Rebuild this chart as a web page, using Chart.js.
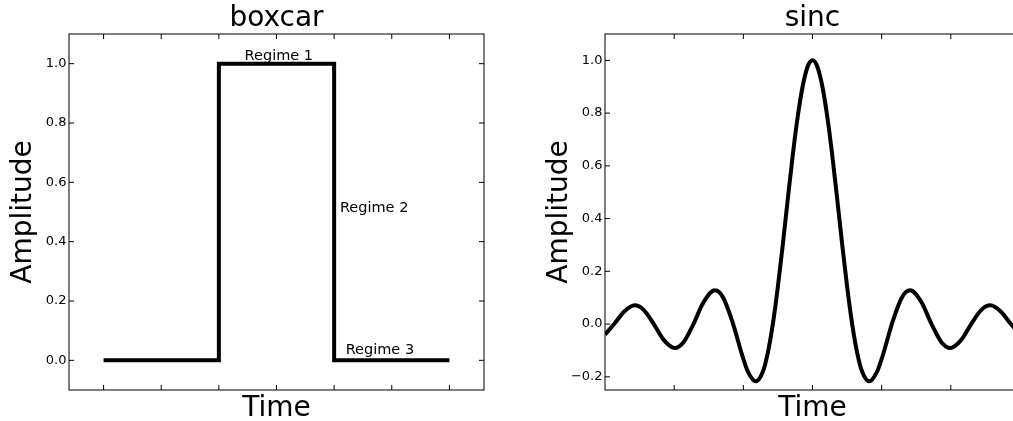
<!DOCTYPE html>
<html>
<head>
<meta charset="utf-8">
<script src="https://cdn.jsdelivr.net/npm/chart.js@4.4.1/dist/chart.umd.min.js"></script>
<style>
  html, body { margin: 0; padding: 0; background: #fff; overflow: hidden; }
  #wrap { position: relative; width: 1013px; height: 421px; overflow: hidden; background: #fff; }
  canvas { position: absolute; top: 0; }
  #c1 { left: 0; }
  #c2 { left: 536px; }
</style>
</head>
<body>
<div id="wrap">
  <canvas id="c1" width="536" height="421"></canvas>
  <canvas id="c2" width="536" height="421"></canvas>
</div>
<script>
// ---- data ----
const boxcarTime = [0, 2, 2, 4, 4, 6];
const boxcarAmp  = [0, 0, 1, 1, 0, 0];
const boxcarXTicks = [0, 1, 2, 3, 4, 5, 6];
const boxcarYTicks = [0, 0.2, 0.4, 0.6, 0.8, 1.0];

const sincTime = [-5.23, -5.0, -4.75, -4.48, -4.25, -4.0, -3.75, -3.47, -3.25, -3.0,
  -2.75, -2.46, -2.25, -2.0, -1.875, -1.75, -1.625, -1.43, -1.25, -1.125, -1.0,
  -0.875, -0.75, -0.625, -0.5, -0.375, -0.25, -0.125, 0,
  0.125, 0.25, 0.375, 0.5, 0.625, 0.75, 0.875, 1.0, 1.125, 1.25, 1.43, 1.625,
  1.75, 1.875, 2.0, 2.25, 2.46, 2.75, 3.0, 3.25, 3.47, 3.75, 4.0, 4.25, 4.48,
  4.75, 5.0, 5.23];
const sincAmp = [-0.040, 0.000, 0.047, 0.071, 0.053, 0.000, -0.060, -0.091, -0.069, 0.000,
  0.082, 0.128, 0.100, 0.000, -0.065, -0.129, -0.181, -0.217, -0.180, -0.108, 0.000,
  0.139, 0.300, 0.471, 0.637, 0.784, 0.900, 0.975, 1.000,
  0.975, 0.900, 0.784, 0.637, 0.471, 0.300, 0.139, 0.000, -0.108, -0.180, -0.217, -0.181,
  -0.129, -0.065, 0.000, 0.100, 0.128, 0.082, 0.000, -0.069, -0.091, -0.060, 0.000, 0.053, 0.071,
  0.047, 0.000, -0.040];
const sincXTicks = [-5.23, -3.486, -1.743, 0, 1.743, 3.486, 5.23];
const sincYTicks = [-0.2, 0, 0.2, 0.4, 0.6, 0.8, 1.0];

const regimeText  = ['Regime 1', 'Regime 2', 'Regime 3'];
const regimeTime  = [3.04, 4.1, 4.2];
const regimeAmp   = [1.012, 0.5, 0.02];
const regimeAlign = ['center', 'left', 'left'];

// ---- helpers ----
Chart.defaults.font.family = "'DejaVu Sans', sans-serif";
Chart.defaults.color = '#000';

function toPoints(xs, ys) { return xs.map((x, i) => ({ x: x, y: ys[i] })); }
function fmt(v) {
  const s = Math.abs(v).toFixed(1);
  return v < -1e-9 ? '\u2212' + s : s;
}

const framePlugin = {
  id: 'frame',
  afterDatasetsDraw(chart) {
    const { ctx, chartArea: a, scales } = chart;
    const L = 5;
    ctx.save();
    ctx.strokeStyle = '#000';
    ctx.lineWidth = 1;
    ctx.beginPath();
    scales.x.ticks.forEach(t => {
      const px = scales.x.getPixelForValue(t.value);
      if (px <= a.left + 1 || px >= a.right - 1) return;
      ctx.moveTo(px, a.bottom); ctx.lineTo(px, a.bottom - L);
      ctx.moveTo(px, a.top); ctx.lineTo(px, a.top + L);
    });
    scales.y.ticks.forEach(t => {
      const py = scales.y.getPixelForValue(t.value);
      if (py <= a.top + 1 || py >= a.bottom - 1) return;
      ctx.moveTo(a.left, py); ctx.lineTo(a.left + L, py);
      ctx.moveTo(a.right, py); ctx.lineTo(a.right - L, py);
    });
    ctx.stroke();
    ctx.strokeRect(a.left, a.top, a.right - a.left, a.bottom - a.top);
    ctx.restore();
  }
};

const annotPlugin = {
  id: 'annot',
  afterDatasetsDraw(chart, args, opts) {
    if (!opts || !opts.items) return;
    const { ctx, scales } = chart;
    ctx.save();
    ctx.fillStyle = '#000';
    ctx.font = "14.5px 'DejaVu Sans', sans-serif";
    ctx.textBaseline = 'alphabetic';
    opts.items.forEach(it => {
      ctx.textAlign = it.align;
      ctx.fillText(it.text, scales.x.getPixelForValue(it.x), scales.y.getPixelForValue(it.y));
    });
    ctx.restore();
  }
};

function makeChart(id, title, xs, ys, xMin, xMax, xTicks, yMin, yMax, yTicks, smooth, items) {
  return new Chart(document.getElementById(id), {
    type: 'line',
    data: {
      datasets: [{
        data: toPoints(xs, ys),
        borderColor: '#000',
        borderWidth: 4,
        pointRadius: 0,
        fill: false,
        tension: 0,
        cubicInterpolationMode: smooth ? 'monotone' : 'default',
        borderJoinStyle: 'miter',
        borderCapStyle: 'butt'
      }]
    },
    options: {
      responsive: false,
      animation: false,
      devicePixelRatio: 1,
      layout: { padding: { left: 0, right: 52, top: 0, bottom: 0 } },
      plugins: {
        legend: { display: false },
        tooltip: { enabled: false },
        title: {
          display: true,
          text: title,
          fullSize: false,
          color: '#000',
          font: { size: 28, weight: 'normal', lineHeight: 1 },
          padding: { top: 5, bottom: 1 }
        },
        annot: { items: items }
      },
      scales: {
        x: {
          type: 'linear',
          min: xMin, max: xMax,
          afterBuildTicks: ax => { ax.ticks = xTicks.map(v => ({ value: v })); },
          afterFit: ax => { ax.height = 31; },
          grid: { display: false, drawTicks: false },
          border: { display: false },
          ticks: { display: false },
          title: {
            display: true, text: 'Time', color: '#000',
            font: { size: 28, lineHeight: 0.9 },
            padding: { top: 0, bottom: 0 }
          }
        },
        y: {
          type: 'linear',
          min: yMin, max: yMax,
          afterBuildTicks: ax => { ax.ticks = yTicks.map(v => ({ value: v })); },
          afterFit: ax => { ax.width = 69; },
          grid: { display: false, drawTicks: false },
          border: { display: false },
          ticks: {
            padding: 2.5, color: '#000',
            font: { size: 13 },
            callback: v => fmt(v)
          },
          title: {
            display: true, text: 'Amplitude', color: '#000',
            font: { size: 28, lineHeight: 1 },
            padding: { top: 10, bottom: 0 }
          }
        }
      }
    },
    plugins: [framePlugin, annotPlugin]
  });
}

const boxItems = regimeText.map((t, i) => ({ text: t, x: regimeTime[i], y: regimeAmp[i], align: regimeAlign[i] }));

makeChart('c1', 'boxcar', boxcarTime, boxcarAmp, -0.6, 6.6, boxcarXTicks, -0.1, 1.1, boxcarYTicks, false, boxItems);
makeChart('c2', 'sinc', sincTime, sincAmp, -5.23, 5.23, sincXTicks, -0.25, 1.1, sincYTicks, true, []);
</script>
</body>
</html>
